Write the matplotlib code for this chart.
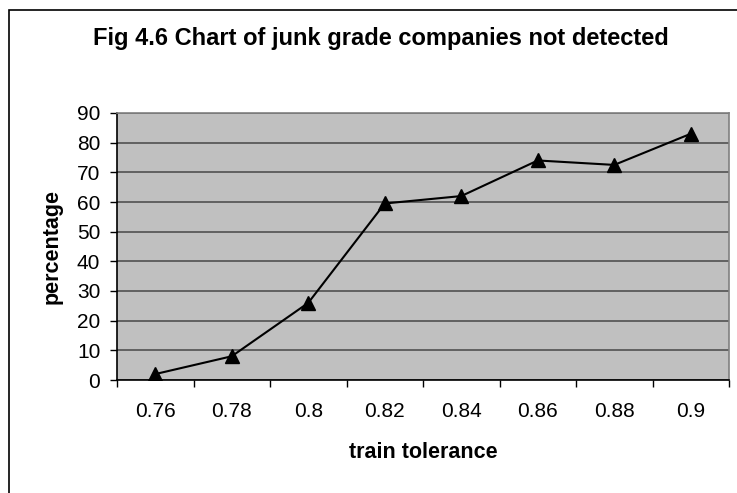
import matplotlib.pyplot as plt
from matplotlib.patches import Rectangle

# train tolerance settings and share of junk grade companies missed
tolerance = ['0.76', '0.78', '0.8', '0.82', '0.84', '0.86', '0.88', '0.9']
pct_not_detected = [2, 8, 26, 59.5, 62, 74, 72.5, 83]
y_ticks = [0, 10, 20, 30, 40, 50, 60, 70, 80, 90]

plt.rcParams['font.family'] = ['Liberation Sans', 'DejaVu Sans']

W, H = 737, 493
fig = plt.figure(figsize=(W / 100, H / 100), dpi=100)

# chart frame, runs off the right and bottom edges
fig.patches.append(Rectangle((9 / W, -0.1), 1.0, 1 - 10 / H + 0.1,
                             transform=fig.transFigure, fill=False,
                             edgecolor='black', linewidth=1.2))

left, right, top, bottom = 117, 729, 113, 380
ax = fig.add_axes([left / W, 1 - bottom / H, (right - left) / W, (bottom - top) / H])
ax.set_facecolor('#c0c0c0')

x = list(range(len(tolerance)))
ax.plot(x, pct_not_detected, color='black', linewidth=1.5,
        marker='^', markersize=10, markerfacecolor='black', markeredgecolor='black',
        zorder=3)

ax.set_xlim(-0.5, len(tolerance) - 0.5)
ax.set_ylim(0, 90)
ax.set_yticks(y_ticks)
ax.yaxis.grid(True, color='#5a5a5a', linewidth=1.3)
ax.set_axisbelow(True)

ax.set_xticks(x)
ax.set_xticklabels(tolerance)
ax.set_xticks([i - 0.5 for i in range(len(tolerance) + 1)], minor=True)
ax.tick_params(axis='x', which='major', length=0, pad=16, labelsize=15)
ax.tick_params(axis='x', which='minor', length=5, width=1, color='black')
ax.tick_params(axis='y', length=5, width=1, pad=7, labelsize=15)

for side in ('top', 'right'):
    ax.spines[side].set_color('#808080')
    ax.spines[side].set_linewidth(1.2)
for side in ('left', 'bottom'):
    ax.spines[side].set_color('black')
    ax.spines[side].set_linewidth(1.2)

ax.set_xlabel('train tolerance', fontsize=15.5, fontweight='bold', va='center')
ax.xaxis.set_label_coords(0.5, (bottom - 453) / (bottom - top))
ax.set_ylabel('percentage', fontsize=15.5, fontweight='bold', va='center')
ax.yaxis.set_label_coords((52 - left) / (right - left), 0.5)

fig.text(381 / W, 1 - 39 / H, 'Fig 4.6 Chart of junk grade companies not detected',
         ha='center', va='center', fontsize=17, fontweight='bold')

fig.savefig('out.png', dpi=100)
